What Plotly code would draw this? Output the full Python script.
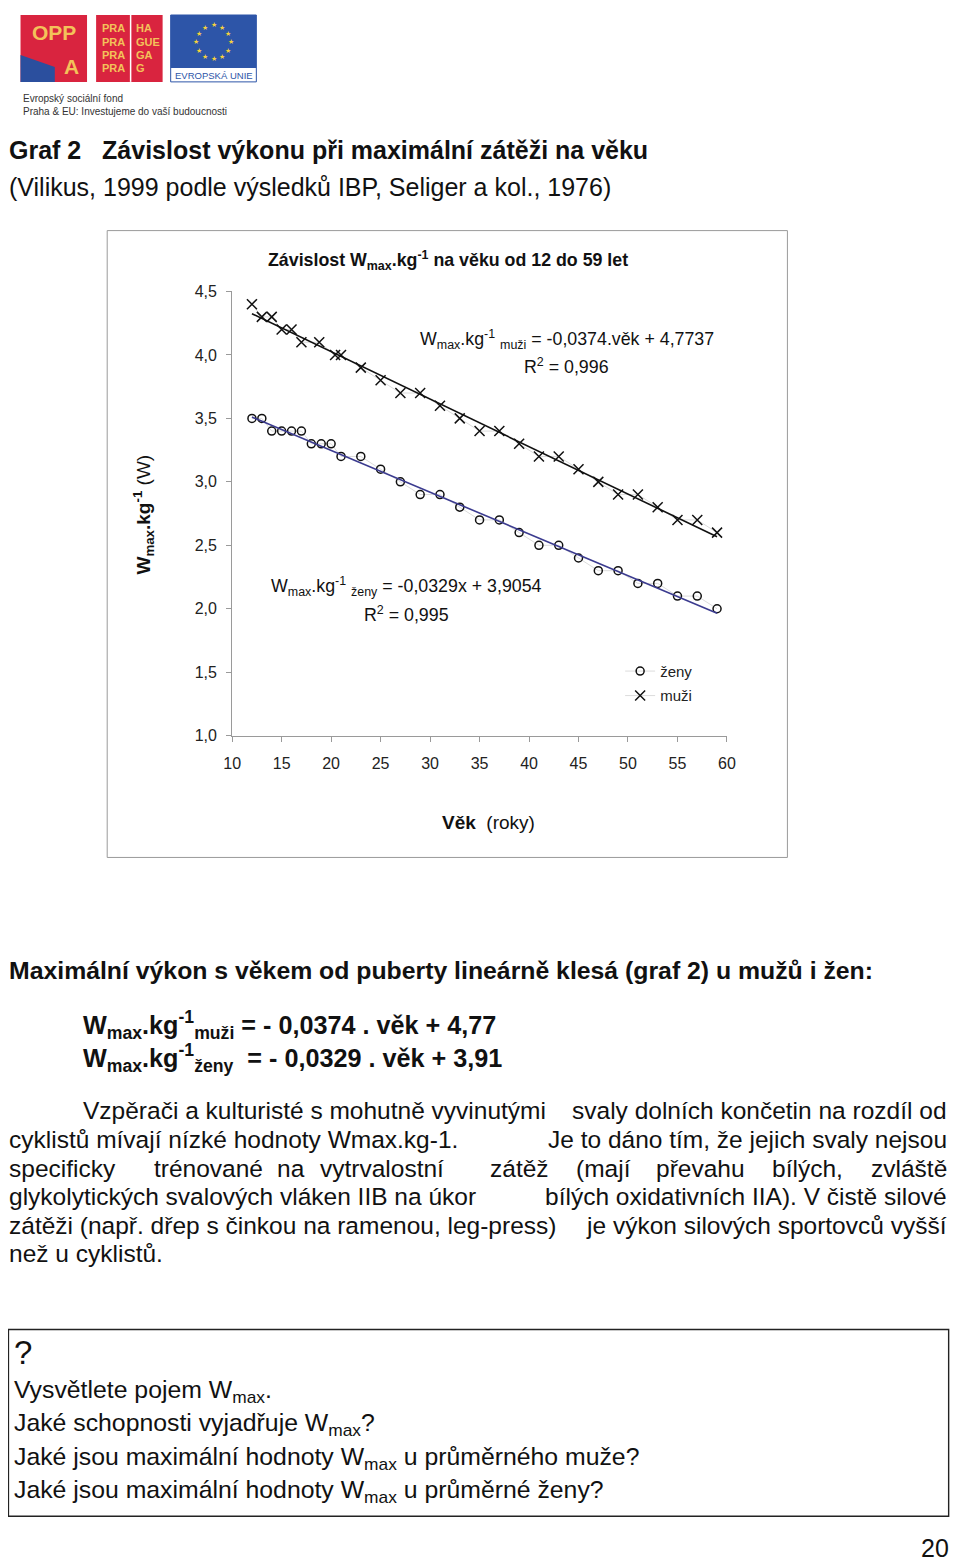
import math
import plotly.graph_objects as go

# ---------------- data ----------------
men_age = [12, 13, 14, 15, 16, 17, 18.8, 20.4, 21, 23, 25, 27, 29, 31, 33, 35, 37, 39,
           41, 43, 45, 47, 49, 51, 53, 55, 57, 59]
men_w = [4.4, 4.3, 4.3, 4.2, 4.2, 4.1, 4.1, 4.0, 4.0, 3.9, 3.8, 3.7, 3.7, 3.6, 3.5, 3.4,
         3.4, 3.3, 3.2, 3.2, 3.1, 3.0, 2.9, 2.9, 2.8, 2.7, 2.7, 2.6]
women_age = [12, 13, 14, 15, 16, 17, 18, 19, 20, 21, 23, 25, 27, 29, 31, 33, 35, 37, 39,
             41, 43, 45, 47, 49, 51, 53, 55, 57, 59]
women_w = [3.5, 3.5, 3.4, 3.4, 3.4, 3.4, 3.3, 3.3, 3.3, 3.2, 3.2, 3.1, 3.0, 2.9, 2.9, 2.8,
           2.7, 2.7, 2.6, 2.5, 2.5, 2.4, 2.3, 2.3, 2.2, 2.2, 2.1, 2.1, 2.0]
men_slope, men_icpt = -0.0374, 4.7737
women_slope, women_icpt = -0.0329, 3.9054
trend_x = [12, 59]
x_ticks = [10, 15, 20, 25, 30, 35, 40, 45, 50, 55, 60]
y_ticks = [1.0, 1.5, 2.0, 2.5, 3.0, 3.5, 4.0, 4.5]
y_ticktext = ["1,0", "1,5", "2,0", "2,5", "3,0", "3,5", "4,0", "4,5"]

W, H = 975, 1570
# observed placement of the figure in the photographed page
X0, SX, Y0, SY = 19.5, 0.974, 16.0, 0.991
FONT = "Liberation Sans, Arial, sans-serif"


def px(x):
    return ((x - X0) / SX) / W


def py(y):
    return 1 - ((y - Y0) / SY) / H


fig = go.Figure()

fig.add_trace(go.Scatter(
    x=women_age, y=women_w, mode="lines+markers", name="ženy", legendgroup="z",
    line=dict(color="#dcdcdc", width=1),
    marker=dict(symbol="circle-open", size=8, color="#111", line=dict(width=1.5)),
    cliponaxis=False))
fig.add_trace(go.Scatter(
    x=men_age, y=men_w, mode="lines+markers", name="muži", legendgroup="m",
    line=dict(color="#dcdcdc", width=1),
    marker=dict(symbol="x-thin-open", size=10, color="#111", line=dict(width=1.5)),
    cliponaxis=False))
fig.add_trace(go.Scatter(
    x=trend_x, y=[men_icpt + men_slope * a for a in trend_x], mode="lines",
    line=dict(color="#111", width=1.6), showlegend=False, hoverinfo="skip"))
fig.add_trace(go.Scatter(
    x=trend_x, y=[women_icpt + women_slope * a for a in trend_x], mode="lines",
    line=dict(color="#3b3b8f", width=1.6), showlegend=False, hoverinfo="skip"))

axis_common = dict(showgrid=False, zeroline=False, showline=True, linecolor="#9a9a9a",
                   linewidth=1, ticks="outside", ticklen=5, tickcolor="#9a9a9a",
                   tickfont=dict(family=FONT, size=16, color="#222"))
fig.update_xaxes(domain=[px(233), px(724)], range=[10, 60], tickvals=x_ticks,
                 ticklabelstandoff=8, **axis_common)
fig.update_yaxes(domain=[py(737), py(292)], range=[1, 4.5], tickvals=y_ticks,
                 ticktext=y_ticktext, ticklabelstandoff=6, **axis_common)

ann = []


def text(x, y, s, size, anchor="left", bold=False, color="#111", family=FONT, angle=0,
         valign="middle"):
    if bold:
        s = "<b>" + s + "</b>"
    ann.append(dict(x=px(x), y=py(y), xref="paper", yref="paper", text=s, showarrow=False,
                    xanchor=anchor, yanchor=valign, textangle=angle,
                    font=dict(family=family, size=size, color=color)))


# ---- chart texts ----
text(447, 261, "Závislost W<sub>max</sub>.kg<sup>-1</sup> na věku od 12 do 59 let", 17.8,
     "center", bold=True)
text(565, 340, "W<sub>max</sub>.kg<sup>-1</sup> <sub>muži</sub> = -0,0374.věk + 4,7737", 17.8,
     "center")
text(565, 367, "R<sup>2</sup> = 0,996", 17.8, "center")
text(406, 588, "W<sub>max</sub>.kg<sup>-1</sup> <sub>ženy</sub> = -0,0329x + 3,9054", 17.8,
     "center")
text(406, 615, "R<sup>2</sup> = 0,995", 17.8, "center")
text(145, 515, "<b>W<sub>max</sub>.kg<sup>-1</sup></b> (W)", 19, "center", angle=-90)
text(487, 824, "<b>Věk</b>\u00a0\u00a0(roky)", 19, "center")

# ---- page texts ----
text(10, 150, "Graf 2\u00a0\u00a0\u00a0Závislost výkonu při maximální zátěži na věku", 25,
     bold=True)
text(10, 187, "(Vilikus, 1999 podle výsledků IBP, Seliger a kol., 1976)", 25)
text(10, 972, "Maximální výkon s věkem od puberty lineárně klesá (graf 2) u mužů i žen:", 24.8,
     bold=True)
text(83, 1027, "W<sub>max</sub>.kg<sup>-1</sup><sub>muži</sub> = - 0,0374 . věk + 4,77", 25.2,
     bold=True)
text(83, 1060, "W<sub>max</sub>.kg<sup>-1</sup><sub>ženy</sub>\u00a0 = - 0,0329 . věk + 3,91", 25.2,
     bold=True)

PS = 24.5
lines = [
    (1113, 83, "Vzpěrači a kulturisté s mohutně vyvinutými", "svaly dolních končetin na rozdíl od"),
    (1142, 10, "cyklistů mívají nízké hodnoty Wmax.kg-1.", "Je to dáno tím, že jejich svaly nejsou"),
    (1199, 10, "glykolytických svalových vláken IIB na úkor", "bílých oxidativních IIA). V čistě silové"),
    (1228, 10, "zátěži (např. dřep s činkou na ramenou, leg-press)", "je výkon silových sportovců vyšší"),
]
for y, x0, left, right in lines:
    text(x0, y, left, PS)
    text(944, y, right, PS, "right")
words3 = [(10, "specificky"), (153, "trénované"), (276, "na"), (318, "vytrvalostní"),
          (487, "zátěž"), (572, "(mají"), (652, "převahu"), (767, "bílých,")]
for x0, w in words3:
    text(x0, 1171, w, PS)
text(944, 1171, "zvláště", PS, "right")
text(10, 1256, "než u cyklistů.", PS)

QX = 15
text(QX, 1355, "?", 33)
text(QX, 1394, "Vysvětlete pojem W<sub>max</sub>.", 24.8)
text(QX, 1427, "Jaké schopnosti vyjadřuje W<sub>max</sub>?", 24.8)
text(QX, 1461, "Jaké jsou maximální hodnoty W<sub>max</sub> u průměrného muže?", 24.8)
text(QX, 1494, "Jaké jsou maximální hodnoty W<sub>max</sub> u průměrné ženy?", 24.8)
text(946, 1551, "20", 25, "right")

# ---- logo ----
shapes = []


def rect(x0, y0, x1, y1, fill=None, line=None, lw=1):
    shapes.append(dict(type="rect", xref="paper", yref="paper", x0=px(x0), x1=px(x1),
                       y0=py(y1), y1=py(y0), fillcolor=fill or "rgba(0,0,0,0)",
                       line=dict(color=line or "rgba(0,0,0,0)", width=lw if line else 0)))


RED, BLUE, YEL = "#d9243f", "#2d55a8", "#f3c25a"
rect(23, 15, 89, 82, fill=RED)
shapes.append(dict(type="path", xref="paper", yref="paper",
                   path=f"M {px(23)} {py(55)} L {px(57)} {py(67)} L {px(57)} {py(82)} L {px(23)} {py(82)} Z",
                   fillcolor="#2b4f9e", line=dict(width=0)))
text(56, 33, "OPP", 21, "center", bold=True, color=YEL)
text(74, 67, "A", 21, "center", bold=True, color=YEL)
rect(98, 15, 164, 82, fill=RED)
rect(131.5, 15, 133, 82, fill="#ffffff")
for yy, r in zip([28, 42, 55, 68], ["HA", "GUE", "GA", "G"]):
    text(115, yy, "PRA", 11, "center", bold=True, color=YEL)
    text(136, yy, r, 11, "left", bold=True, color=YEL)
rect(172, 15, 257, 82, fill="#ffffff", line=BLUE, lw=1)
rect(172, 15, 257, 68, fill=BLUE)
for i in range(12):
    a = 2 * math.pi * i / 12
    text(214.5 + 17 * math.cos(a), 42 + 17 * math.sin(a), "★", 7, "center", color="#f4d23c")
text(214.5, 76, "EVROPSKÁ UNIE", 9.5, "center", color=BLUE)
text(23, 99, "Evropský sociální fond", 10, color="#333")
text(23, 112, "Praha &amp; EU: Investujeme do vaší budoucnosti", 10, color="#333")

# chart border & question box
rect(109, 231, 784, 859, line="#9a9a9a", lw=1)
rect(11, 1332, 944, 1519, line="#222", lw=1.4)

fig.update_layout(
    width=W, height=H, autosize=False, margin=dict(l=0, r=0, t=0, b=0),
    paper_bgcolor="white", plot_bgcolor="white", annotations=ann, shapes=shapes,
    legend=dict(x=px(618), y=py(656), xanchor="left", yanchor="top",
                font=dict(family=FONT, size=15, color="#222"), tracegroupgap=2,
                bgcolor="rgba(0,0,0,0)"),
    font=dict(family=FONT),
)

fig.write_html("out.html")
